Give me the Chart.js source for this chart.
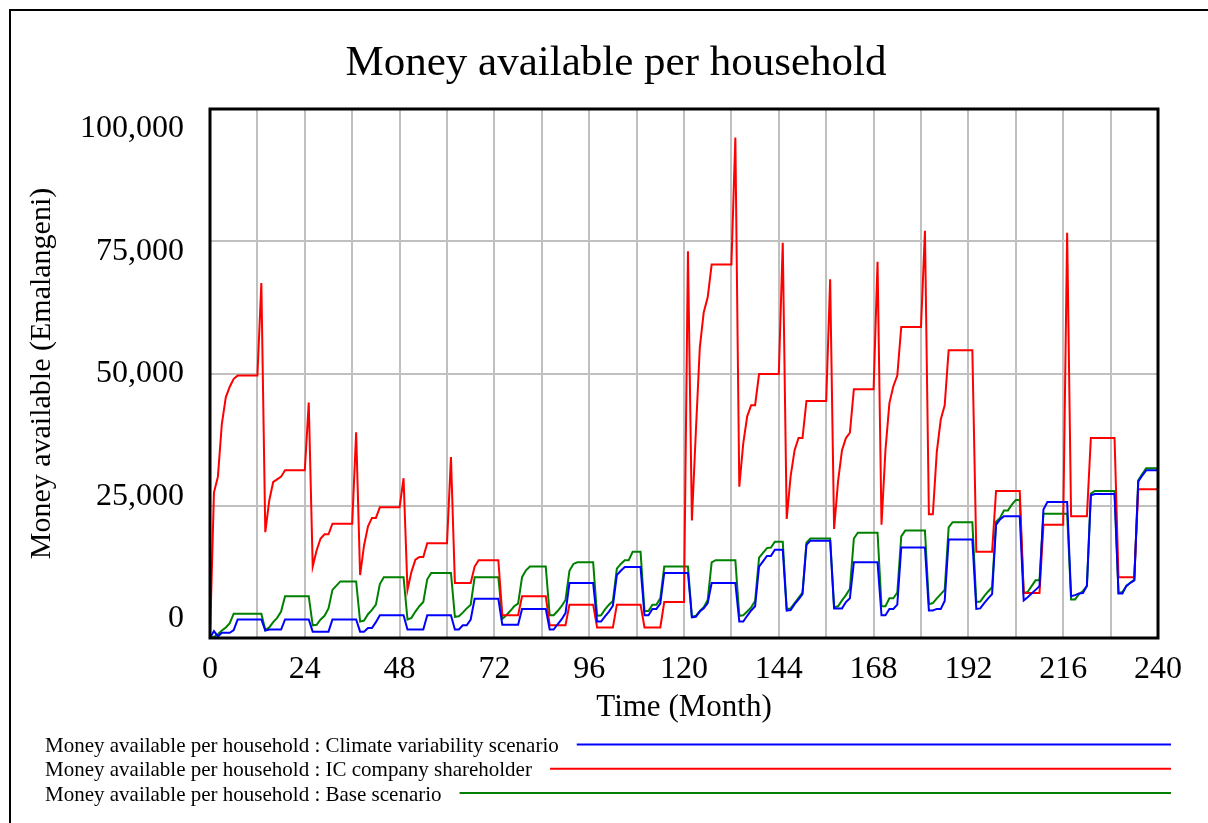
<!DOCTYPE html>
<html>
<head>
<meta charset="utf-8">
<title>Money available per household</title>
<script src="https://cdn.jsdelivr.net/npm/chart.js@4.4.1/dist/chart.umd.min.js"></script>
<style>
  html, body { margin: 0; padding: 0; background: #fff; }
  canvas { display: block; }
</style>
</head>
<body>
<canvas id="moneyChart" width="1208" height="823"></canvas>
<script>
var serif = '"Liberation Serif", "Times New Roman", serif';

// time axis, one point per month
var months = [];
for (var m = 0; m <= 240; m++) months.push(m);

var xTickLabels = [0, 24, 48, 72, 96, 120, 144, 168, 192, 216, 240];
var yTickValues = [0, 25000, 50000, 75000, 100000];

var seriesNames = [
  "Money available per household : Climate variability scenario",
  "Money available per household : IC company shareholder",
  "Money available per household : Base scenario"
];
var seriesColors = ["#0000ff", "#ff0000", "#008000"];

// Climate variability scenario (blue)
var climateValues = [
  0, 1300, 300, 1000, 1000, 1000, 1500, 3500, 3500, 3500, 3500, 3500,
  3500, 3500, 1400, 1600, 1600, 1600, 1600, 3500, 3500, 3500, 3500, 3500,
  3500, 3500, 1200, 1200, 1200, 1200, 1200, 3500, 3500, 3500, 3500, 3500,
  3500, 3500, 1200, 1200, 1900, 1900, 3000, 4300, 4300, 4300, 4300, 4300,
  4300, 4300, 1600, 1600, 1600, 1600, 1600, 4300, 4300, 4300, 4300, 4300,
  4300, 4300, 1600, 1600, 2400, 2400, 3500, 7400, 7400, 7400, 7400, 7400,
  7400, 7400, 2500, 2500, 2500, 2500, 2500, 5500, 5500, 5500, 5500, 5500,
  5500, 5500, 1600, 1600, 2600, 3500, 4700, 10400, 10400, 10400, 10400, 10400,
  10400, 10400, 3100, 3100, 4100, 5000, 6100, 11900, 12700, 13400, 13400, 13400,
  13400, 13400, 4300, 4300, 5500, 5500, 6500, 12300, 12300, 12300, 12300, 12300,
  12300, 12300, 3900, 4000, 5000, 5600, 6600, 10400, 10400, 10400, 10400, 10400,
  10400, 10400, 3100, 3100, 4200, 5200, 6000, 13500, 14500, 15500, 15500, 16700,
  16700, 16700, 5200, 5300, 6400, 7300, 8300, 17600, 18400, 18400, 18400, 18400,
  18400, 18400, 5600, 5600, 5600, 6800, 7500, 14300, 14300, 14300, 14300, 14300,
  14300, 14300, 4300, 4300, 5500, 5500, 6300, 17100, 17100, 17100, 17100, 17100,
  17100, 17100, 5200, 5200, 5500, 5500, 7000, 18600, 18600, 18600, 18600, 18600,
  18600, 18600, 5500, 5600, 6600, 7500, 8300, 21400, 22400, 23000, 23000, 23000,
  23000, 23000, 7100, 7700, 8400, 9100, 9800, 24300, 25700, 25700, 25700, 25700,
  25700, 25700, 7900, 8100, 8400, 8500, 9900, 27000, 27200, 27200, 27200, 27200,
  27200, 27200, 8400, 8400, 9900, 10400, 10900, 29600, 30700, 31700, 31700, 31700,
  31700
];

// IC company shareholder (red)
var shareholderValues = [
  0, 27500, 30500, 40500, 45500, 47500, 49000, 49600, 49600, 49600, 49600, 49600,
  49600, 67100, 20000, 26000, 29500, 30000, 30500, 31700, 31700, 31700, 31700, 31700,
  31700, 44500, 13500, 16600, 18800, 19600, 19600, 21600, 21600, 21600, 21600, 21600,
  21600, 38900, 11900, 17500, 21100, 22700, 22700, 24700, 24700, 24700, 24700, 24700,
  24700, 30200, 9100, 12500, 14800, 15300, 15300, 17900, 17900, 17900, 17900, 17900,
  17900, 34200, 10400, 10400, 10400, 10400, 10400, 13500, 14700, 14700, 14700, 14700,
  14700, 14700, 4300, 4300, 4300, 4300, 4300, 7900, 7900, 7900, 7900, 7900,
  7900, 7900, 2400, 2400, 2400, 2400, 2400, 6300, 6300, 6300, 6300, 6300,
  6300, 6300, 2000, 2000, 2000, 2000, 2000, 6300, 6300, 6300, 6300, 6300,
  6300, 6300, 2000, 2000, 2000, 2000, 2000, 6800, 6800, 6800, 6800, 6800,
  6800, 73100, 22200, 39000, 54900, 61600, 64400, 70600, 70600, 70600, 70600, 70600,
  70600, 94600, 28600, 36800, 41900, 44000, 44000, 49900, 49900, 49900, 49900, 49900,
  49900, 74700, 22500, 30600, 35500, 37800, 37800, 44800, 44800, 44800, 44800, 44800,
  44800, 67800, 20600, 29600, 35500, 37800, 38800, 47000, 47000, 47000, 47000, 47000,
  47000, 71100, 21400, 35500, 44400, 47600, 49600, 58800, 58800, 58800, 58800, 58800,
  58800, 77000, 23400, 23400, 35200, 41300, 44000, 54400, 54400, 54400, 54400, 54400,
  54400, 54400, 16300, 16300, 16300, 16300, 16300, 27800, 27800, 27800, 27800, 27800,
  27800, 27800, 8500, 8500, 8500, 8500, 8500, 21400, 21400, 21400, 21400, 21400,
  21400, 76600, 23000, 23000, 23000, 23000, 23000, 37800, 37800, 37800, 37800, 37800,
  37800, 37800, 11500, 11500, 11500, 11500, 11500, 28100, 28100, 28100, 28100, 28100,
  28100
];

// Base scenario (green)
var baseValues = [
  0, 200, 700, 1400, 2000, 2800, 4600, 4600, 4600, 4600, 4600, 4600,
  4600, 4600, 1500, 2000, 3000, 3800, 5000, 7900, 7900, 7900, 7900, 7900,
  7900, 7900, 2400, 2500, 3500, 4200, 5600, 9100, 9900, 10700, 10700, 10700,
  10700, 10700, 3100, 3300, 4500, 5300, 6300, 10200, 11500, 11500, 11500, 11500,
  11500, 11500, 3500, 3800, 5000, 6000, 6800, 11100, 12300, 12300, 12300, 12300,
  12300, 12300, 4000, 4100, 4800, 5600, 6300, 11500, 11500, 11500, 11500, 11500,
  11500, 11500, 3600, 4300, 5100, 6000, 6500, 11500, 12800, 13500, 13500, 13500,
  13500, 13500, 4300, 4300, 5100, 6000, 7200, 12700, 14000, 14300, 14300, 14300,
  14300, 14300, 4200, 4300, 5400, 6300, 7000, 13100, 14000, 14700, 14700, 16300,
  16300, 16300, 5100, 5100, 6300, 6300, 7500, 13500, 13500, 13500, 13500, 13500,
  13500, 13500, 4000, 4200, 5100, 5800, 7200, 14300, 14700, 14700, 14700, 14700,
  14700, 14700, 4200, 4300, 5000, 5800, 7000, 15200, 16100, 17000, 17100, 18200,
  18200, 18200, 5500, 5600, 6600, 7600, 8600, 18000, 18800, 18800, 18800, 18800,
  18800, 18800, 5800, 6000, 7100, 8100, 9300, 18800, 19900, 19900, 19900, 19900,
  19900, 19900, 6000, 6000, 7500, 7500, 8600, 19200, 20300, 20300, 20300, 20300,
  20300, 20300, 6400, 6600, 7500, 8300, 9100, 20900, 21900, 21900, 21900, 21900,
  21900, 21900, 6800, 6900, 7900, 8800, 9600, 22000, 22700, 24100, 24100, 25200,
  26100, 26100, 8500, 8700, 9800, 10900, 10900, 23500, 23500, 23500, 23500, 23500,
  23500, 23500, 7300, 7300, 8300, 8900, 9800, 27300, 27800, 27800, 27800, 27800,
  27800, 27800, 8500, 8700, 9800, 10500, 11000, 29800, 31000, 32100, 32100, 32100,
  32100
];

var seriesValues = [climateValues, shareholderValues, baseValues];

// white page + Vensim style frame, title and legend
var frameAndLegend = {
  id: 'frameAndLegend',
  beforeDraw: function (chart) {
    var c = chart.ctx;
    c.save();
    c.fillStyle = '#fff';
    c.fillRect(0, 0, chart.width, chart.height);
    c.restore();
  },
  afterDraw: function (chart) {
    var c = chart.ctx, a = chart.chartArea;
    c.save();
    // outer frame (runs off the right and bottom edge)
    c.fillStyle = '#000';
    c.fillRect(9, 9, chart.width, 2);
    c.fillRect(9, 9, 2, chart.height);
    // plot box
    c.strokeStyle = '#000';
    c.lineWidth = 3;
    c.strokeRect(a.left, a.top, a.right - a.left, a.bottom - a.top);
    // title
    c.fillStyle = '#000';
    c.font = '43px ' + serif;
    c.textAlign = 'center';
    c.textBaseline = 'alphabetic';
    c.fillText('Money available per household', 616, 75);
    // legend rows: text then a line to the right edge
    c.font = '21px ' + serif;
    c.textAlign = 'left';
    chart.data.datasets.forEach(function (ds, i) {
      var base = 752 + i * 24.3;
      c.fillStyle = '#000';
      c.fillText(ds.label, 45, base);
      var w = c.measureText(ds.label).width;
      c.strokeStyle = ds.borderColor;
      c.lineWidth = 2;
      c.beginPath();
      c.moveTo(45 + w + 18, base - 7.5);
      c.lineTo(1171, base - 7.5);
      c.stroke();
    });
    c.restore();
  }
};

var datasets = seriesValues.map(function (vals, i) {
  return {
    label: seriesNames[i],
    data: vals,
    borderColor: seriesColors[i],
    backgroundColor: seriesColors[i],
    borderWidth: 2,
    pointRadius: 0,
    tension: 0,
    fill: false
  };
});

var gridStyle = { color: '#c0c0c0', lineWidth: 2, drawTicks: false };

var moneyChart = new Chart(document.getElementById('moneyChart'), {
  type: 'line',
  data: { labels: months, datasets: datasets },
  options: {
    responsive: false,
    animation: false,
    layout: { padding: { top: 109, right: 50, bottom: 93, left: 0 } },
    plugins: {
      legend: { display: false },
      title: { display: false },
      tooltip: { enabled: false }
    },
    scales: {
      x: {
        type: 'linear',
        min: 0,
        max: 240,
        afterBuildTicks: function (s) {
          s.ticks = months.filter(function (v) { return v % 12 === 0; })
            .map(function (v) { return { value: v }; });
        },
        afterFit: function (s) { s.height = 92; },
        grid: gridStyle,
        border: { display: false },
        ticks: {
          autoSkip: false,
          maxRotation: 0,
          padding: 12,
          color: '#000',
          font: { family: serif, size: 32 },
          callback: function (v) { return xTickLabels.indexOf(v) >= 0 ? String(v) : ''; }
        },
        title: {
          display: true,
          text: 'Time (Month)',
          color: '#000',
          font: { family: serif, size: 31 },
          padding: { top: 0, bottom: 4 }
        }
      },
      y: {
        position: 'left',
        min: 0,
        max: 100000,
        afterBuildTicks: function (s) {
          s.ticks = yTickValues.map(function (v) { return { value: v }; });
        },
        afterFit: function (s) { s.width = 0; },
        grid: gridStyle,
        border: { display: false },
        ticks: { display: false }
      },
      yLabels: {
        position: 'left',
        min: -3878,
        max: 104082,
        afterBuildTicks: function (s) {
          s.ticks = yTickValues.map(function (v) { return { value: v }; });
        },
        afterFit: function (s) { s.width = 210; },
        grid: { display: false, drawTicks: false },
        border: { display: false },
        ticks: {
          padding: 26,
          color: '#000',
          font: { family: serif, size: 32 },
          callback: function (v) { return v.toLocaleString('en-US'); }
        },
        title: {
          display: true,
          text: 'Money available (Emalangeni)',
          color: '#000',
          font: { family: serif, size: 30 },
          padding: { top: 24, bottom: 0 }
        }
      }
    }
  },
  plugins: [frameAndLegend]
});
</script>
</body>
</html>
